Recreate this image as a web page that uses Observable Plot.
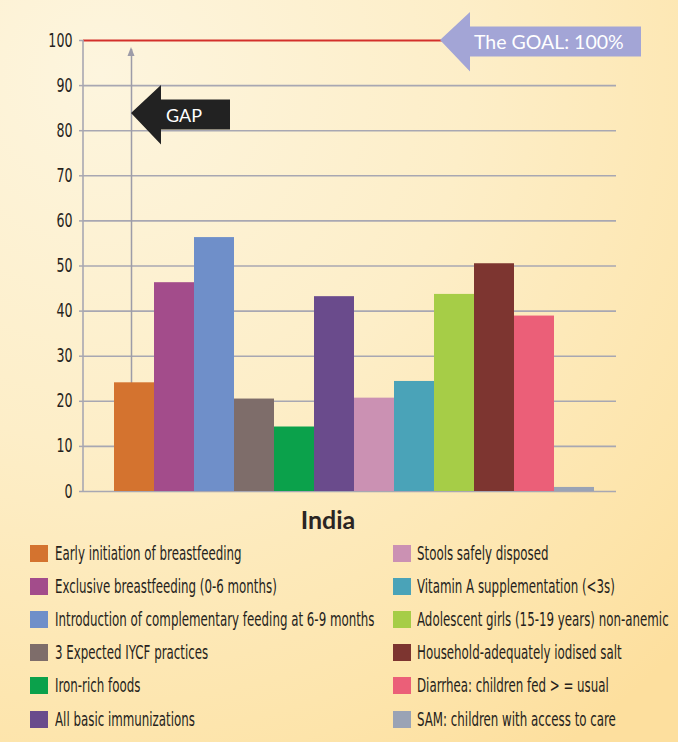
<!DOCTYPE html>
<html>
<head>
<meta charset="utf-8">
<script src="https://cdn.jsdelivr.net/npm/d3@7"></script>
<script src="https://cdn.jsdelivr.net/npm/@observablehq/plot@0.6"></script>
<style>
  html, body { margin: 0; padding: 0; }
  body {
    width: 678px; height: 742px; overflow: hidden; position: relative;
    background: radial-gradient(ellipse 120% 110% at 15% 10%, #fdf5de 0%, #fdeec8 45%, #fde4aa 85%, #fddf9e 100%);
    font-family: "DejaVu Sans Condensed", "DejaVu Sans", sans-serif;
    color: #2b2522;
  }
  #chart { position: absolute; left: 0; top: 0; }
  #title {
    position: absolute; left: 0; top: 502px; width: 656px; text-align: center;
    font-family: Lato, "Open Sans", sans-serif; font-weight: bold; font-size: 25px;
    line-height: 34px; color: #2b2522;
  }
  .item { position: absolute; height: 20px; display: flex; align-items: center; white-space: nowrap; }
  .sw { width: 18px; height: 17px; flex: none; }
  .lbl { display: inline-block; font-size: 19.5px; transform: scaleX(0.675); transform-origin: left center; color: #261f1c; }
</style>
</head>
<body>
<div id="chart"></div>
<div id="title"></div>
<div id="legend"></div>
<script>
// ---- data ----
const categories = [
  "Early initiation of breastfeeding",
  "Exclusive breastfeeding (0-6 months)",
  "Introduction of complementary feeding at 6-9 months",
  "3 Expected IYCF practices",
  "Iron-rich foods",
  "All basic immunizations",
  "Stools safely disposed",
  "Vitamin A supplementation (<3s)",
  "Adolescent girls (15-19 years) non-anemic",
  "Household-adequately iodised salt",
  "Diarrhea: children fed >=usual",
  "SAM: children with access to care"
];
const values = [24.1, 46.3, 56.3, 20.5, 14.3, 43.2, 20.7, 24.4, 43.7, 50.5, 38.9, 0.9];
const colors = ["#d4732f", "#a34c8b", "#6f8fc9", "#7e6d6a", "#0ba14b", "#6a4b8c",
                "#cb91b3", "#4aa3b8", "#a6cd47", "#7d3530", "#eb5f78", "#9aa3b5"];
const legendLabels = [
  "Early initiation of breastfeeding",
  "Exclusive breastfeeding (0-6 months)",
  "Introduction of complementary feeding at 6-9 months",
  "3 Expected IYCF practices",
  "Iron-rich foods",
  "All basic immunizations",
  "Stools safely disposed",
  "Vitamin A supplementation (<3s)",
  "Adolescent girls (15-19 years) non-anemic",
  "Household-adequately iodised salt",
  "Diarrhea: children fed > = usual",
  "SAM: children with access to care"
];
const yTicks = [0, 10, 20, 30, 40, 50, 60, 70, 80, 90, 100];
const goalValue = 100;
const goalLabel = "The GOAL: 100%";
const gapLabel = "GAP";
const gapArrowY = 83.8;     // level of the GAP arrow
const gapLineTop = 98;      // top of the vertical gap arrow
const titleText = "India";

// ---- chart ----
const data = categories.map((c, i) => ({category: c, value: values[i], color: colors[i]}));
const gridColor = "#a8a7b2";

const chart = Plot.plot({
  width: 678,
  height: 505,
  marginLeft: 83,
  marginRight: 62,
  marginTop: 40,
  marginBottom: 14,
  style: {
    background: "transparent",
    fontFamily: "'DejaVu Sans Condensed', 'DejaVu Sans', sans-serif",
    fontSize: "17px",
    color: "#2b2522",
    overflow: "visible"
  },
  x: {type: "band", domain: categories, paddingInner: 0, paddingOuter: 0.634, align: 0.588, axis: null},
  y: {domain: [0, 100], ticks: yTicks.length - 1, tickSize: 4, tickPadding: 7, tickFormat: d => String(d), label: null},
  marks: [
    Plot.ruleY(yTicks.filter(v => v < goalValue), {stroke: gridColor, strokeWidth: 1.6}),
    Plot.ruleY([goalValue], {stroke: "#d3302b", strokeWidth: 2}),
    Plot.ruleX([categories[0]], {y1: 0, y2: gapLineTop, stroke: "#9d9ca8", strokeWidth: 1.5, dx: -3}),
    Plot.barY(data, {x: "category", y: "value", fill: "color"})
  ]
});
document.getElementById("chart").appendChild(chart);

// ---- post-render annotations ----
const svg = d3.select(chart);
const ys = chart.scale("y").apply;
const xs = chart.scale("x");
const bw = xs.bandwidth;
const x0 = xs.apply(categories[0]) + bw / 2 - 3;

// axis tick color & narrower labels
svg.selectAll('g[aria-label="y-axis tick"] path').attr("stroke", gridColor).attr("stroke-width", 1.5);
svg.selectAll('g[aria-label="y-axis tick label"] text')
  .attr("fill", "#261f1c")
  .style("font-size", "19px")
  .each(function() {
    const t = d3.select(this);
    const x = +(t.attr("x") || 0);
    const prev = t.attr("transform") || "";
    t.attr("transform", `${prev} translate(${x},0) scale(0.74,1) translate(${-x},0)`);
  });

// vertical axis line
svg.append("line")
  .attr("x1", 83).attr("x2", 83)
  .attr("y1", ys(0)).attr("y2", ys(goalValue))
  .attr("stroke", gridColor).attr("stroke-width", 1.6);

// gap vertical arrowhead
const yt = ys(gapLineTop);
svg.append("path")
  .attr("d", `M${x0},${yt - 2}L${x0 - 3.5},${yt + 7}L${x0 + 3.5},${yt + 7}Z`)
  .attr("fill", "#9d9ca8");

// GOAL arrow
const gy = ys(goalValue) + 1.5;
const gTip = 440, gBase = 470, gRight = 641;
svg.append("path")
  .attr("d", `M${gTip},${gy - 1.5}L${gBase},${gy - 29.5}L${gBase},${gy - 15}L${gRight},${gy - 15}L${gRight},${gy + 15}L${gBase},${gy + 15}L${gBase},${gy + 30}Z`)
  .attr("fill", "#a3a5d6");
svg.append("text")
  .attr("x", 474).attr("y", gy + 7)
  .attr("text-anchor", "start")
  .attr("fill", "#ffffff")
  .style("font-family", "Lato, 'Open Sans', sans-serif")
  .style("font-size", "19.5px")
  .text(goalLabel);

// GAP arrow
const py = ys(gapArrowY) + 1.5;
const pTip = x0, pBase = x0 + 30, pRight = x0 + 99;
svg.append("path")
  .attr("d", `M${pTip},${py - 1.5}L${pBase},${py - 29.5}L${pBase},${py - 15}L${pRight},${py - 15}L${pRight},${py + 15}L${pBase},${py + 15}L${pBase},${py + 30}Z`)
  .attr("fill", "#222222");
svg.append("text")
  .attr("x", pBase + 5).attr("y", py + 7)
  .attr("text-anchor", "start")
  .attr("fill", "#ffffff")
  .style("font-family", "Lato, 'Open Sans', sans-serif")
  .style("font-size", "18px")
  .text(gapLabel);

// ---- title ----
document.getElementById("title").textContent = titleText;

// ---- legend ----
const legend = document.getElementById("legend");
legendLabels.forEach((label, i) => {
  const col = i < 6 ? 0 : 1;
  const row = i % 6;
  const item = document.createElement("div");
  item.className = "item";
  item.style.left = (col === 0 ? 30 : 393) + "px";
  item.style.top = (543 + row * 33.2) + "px";
  const sw = document.createElement("span");
  sw.className = "sw";
  sw.style.background = colors[i];
  const lbl = document.createElement("span");
  lbl.className = "lbl";
  lbl.style.marginLeft = (col === 0 ? 7 : 6) + "px";
  lbl.textContent = label;
  item.appendChild(sw);
  item.appendChild(lbl);
  legend.appendChild(item);
});
</script>
</body>
</html>
